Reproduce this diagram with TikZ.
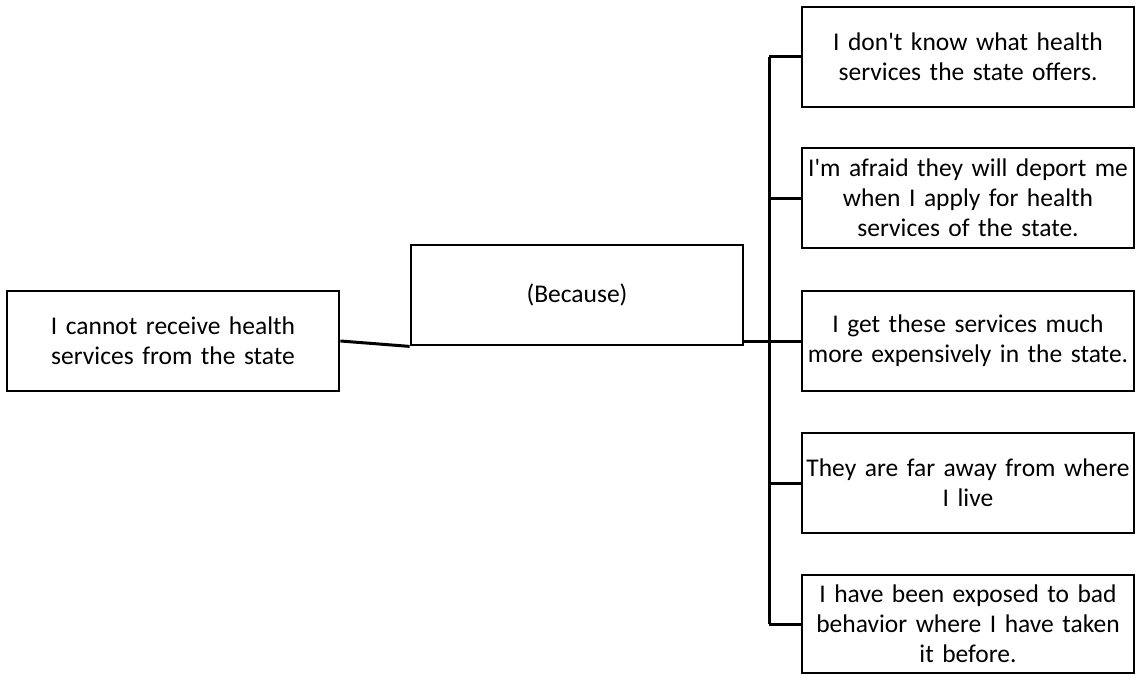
\documentclass[tikz,border=0pt]{standalone}
\usepackage{fontspec}
\setmainfont{Carlito}
\tikzset{
  reason/.style={draw, line width=2.8pt, minimum width=332pt, minimum height=100pt,
    text width=328pt, inner xsep=2pt, align=center, font=\fontsize{25.5}{30}\selectfont},
  link/.style={line width=3pt}
}
\begin{document}
\begin{tikzpicture}[x=1pt,y=-1pt]
        \useasboundingbox (0,0) rectangle (1141,677);

        % Define the boxes
        \node[reason] (cannot) at (173,341) {I cannot receive health\\services from the state};
        \node[reason, minimum width=330pt] (because) at (577,295) {(Because)};

        \node[reason] (r1) at (968,57) {I don\textquotesingle t know what health\\services the state offers.};
        \node[reason] (r2) at (968,198) {I\textquotesingle m afraid they will deport me\\when I apply for health\\services of the state.};
        \node[reason] (r3) at (968,341) {I get these services much\\more expensively in the state.};
        \node[reason] (r4) at (968,483) {They are far away from where\\I live};
        \node[reason, minimum height=98pt] (r5) at (968,624) {I have been exposed to bad\\behavior where I have taken\\it before.};

        % Draw connectors
        \coordinate (bus) at (769,0);
        \draw[link] (cannot.east) -- (because.south west);
        \draw[link] (because.east |- r3.west) -- (r3.west);
        \draw[link] (bus |- r1.west) -- (bus |- r5.west);
        \draw[link] (bus |- r1.west) -- (r1.west);
        \draw[link] (bus |- r2.west) -- (r2.west);
        \draw[link] (bus |- r4.west) -- (r4.west);
        \draw[link] (bus |- r5.west) -- (r5.west);
    \end{tikzpicture}
\end{document}
